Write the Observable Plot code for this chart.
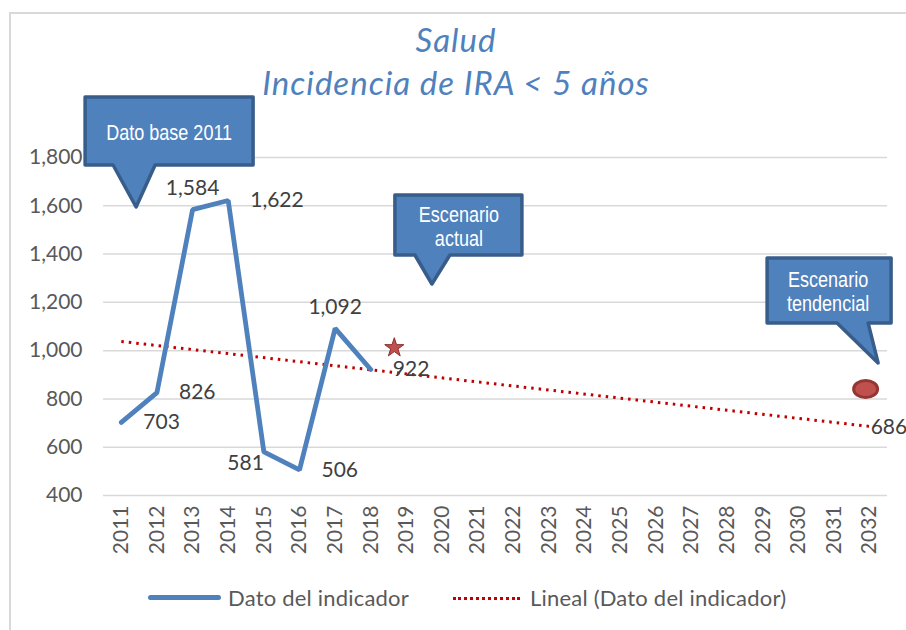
<!DOCTYPE html>
<html>
<head>
<meta charset="utf-8">
<script src="https://cdn.jsdelivr.net/npm/d3@7"></script>
<script src="https://cdn.jsdelivr.net/npm/@observablehq/plot@0.6"></script>
<style>
  body { margin: 0; background: #fff; }
  #wrap { position: relative; width: 906px; height: 630px; overflow: hidden; background: #fff; }
  #frame { position: absolute; left: 9px; top: 12px; width: 1000px; height: 1000px;
           border-left: 2px solid #d9d9d9; border-top: 2px solid #d9d9d9; }
  .title { position: absolute; left: 3px; width: 906px; text-align: center; font-family: Lato, sans-serif;
           font-style: italic; color: #4f81bd; font-size: 33px; letter-spacing: 1px; line-height: 38px; white-space: nowrap; }
  #chart { position: absolute; left: 0; top: 90px; }
  .lg { position: absolute; font-family: Lato, sans-serif; font-size: 22px; letter-spacing: 0.2px; color: #595959; line-height: 24px; white-space: nowrap; }
</style>
</head>
<body>
<div id="wrap">
  <div id="frame"></div>
  <div class="title" id="t1" style="top:20px"></div>
  <div class="title" id="t2" style="top:63px"></div>
  <div id="chart"></div>
  <div id="legend"></div>
</div>
<script>
// ---- text ----
const titleLines = ["Salud", "Incidencia de IRA < 5 años"];
const seriesName = "Dato del indicador";
const trendName = "Lineal (Dato del indicador)";

// ---- data ----
const years = [2011, 2012, 2013, 2014, 2015, 2016, 2017, 2018];
const values = [703, 826, 1584, 1622, 581, 506, 1092, 922];
const valueLabels = ["703", "826", "1,584", "1,622", "581", "506", "1,092", "922"];

// linear trend (Excel "Lineal") end points
const trendYears = [2011, 2032];
const trendValues = [1038, 686];
const trendLabel = "686";

// scenario markers
const actualYears = [2018.66];
const actualValues = [1012];
const tendYears = [2031.9];
const tendValues = [839];

// axes
const axisYears = [2011, 2012, 2013, 2014, 2015, 2016, 2017, 2018, 2019, 2020, 2021,
                   2022, 2023, 2024, 2025, 2026, 2027, 2028, 2029, 2030, 2031, 2032];
const yTicks = [400, 600, 800, 1000, 1200, 1400, 1600, 1800];

// callouts: text lines and the data point their pointer tip marks
const calloutLines = [["Dato base 2011"], ["Escenario", "actual"], ["Escenario", "tendencial"]];
const calloutTipYears = [2011.43, 2019.73, 2032.25];
const calloutTipValues = [1593, 1274, 947];

document.getElementById("t1").textContent = titleLines[0];
document.getElementById("t2").textContent = titleLines[1];

const series = years.map((y, i) => ({year: y, value: values[i], label: valueLabels[i]}));
const trend = trendYears.map((y, i) => ({year: y, value: trendValues[i]}));
const actual = actualYears.map((y, i) => ({year: y, value: actualValues[i]}));
const tend = tendYears.map((y, i) => ({year: y, value: tendValues[i]}));

const rightLabeled = new Set([2011, 2012, 2014, 2016, 2018]);
const topLabeled = new Set([2013, 2017]);
const leftLabeled = new Set([2015]);

// callout geometry (pixel offsets relative to the pointer tip)
const calloutGeom = [
  {l: -51, r: 117, t: -110, b: -42, pl: -23, pr: 19, cx: 33, cy: [-75]},
  {l: -37, r: 90, t: -89, b: -29, pl: -17, pr: 18, cx: 27, cy: [-70, -46]},
  {l: -111, r: 13, t: -105, b: -40, pl: -41, pr: -10, cx: -50, cy: [-84, -60]}
];

const NS = "http://www.w3.org/2000/svg";
function calloutMark(index, scales) {
  const g = document.createElementNS(NS, "g");
  calloutLines.forEach((lines, i) => {
    const tx = scales.x(calloutTipYears[i]);
    const ty = scales.y(calloutTipValues[i]);
    const c = calloutGeom[i];
    const p = document.createElementNS(NS, "path");
    const d = [
      [tx + c.l, ty + c.t], [tx + c.r, ty + c.t], [tx + c.r, ty + c.b],
      [tx + c.pr, ty + c.b], [tx, ty], [tx + c.pl, ty + c.b], [tx + c.l, ty + c.b]
    ].map((pt, k) => (k ? "L" : "M") + pt[0].toFixed(1) + "," + pt[1].toFixed(1)).join("") + "Z";
    p.setAttribute("d", d);
    p.setAttribute("fill", "#4f81bd");
    p.setAttribute("stroke", "#385d8a");
    p.setAttribute("stroke-width", "3.5");
    p.setAttribute("stroke-linejoin", "round");
    g.appendChild(p);
    lines.forEach((line, k) => {
      const t = document.createElementNS(NS, "text");
      t.setAttribute("transform", `translate(${tx + c.cx},${ty + c.cy[k]}) scale(0.82,1)`);
      t.setAttribute("text-anchor", "middle");
      t.setAttribute("dy", "0.35em");
      t.setAttribute("fill", "#ffffff");
      t.setAttribute("font-family", "Liberation Sans, Arial, sans-serif");
      t.setAttribute("font-size", "22");
      t.textContent = line;
      g.appendChild(t);
    });
  });
  return g;
}

function ellipseMark(index, scales) {
  const g = document.createElementNS(NS, "g");
  tend.forEach(d => {
    const e = document.createElementNS(NS, "ellipse");
    e.setAttribute("cx", scales.x(d.year));
    e.setAttribute("cy", scales.y(d.value));
    e.setAttribute("rx", 12);
    e.setAttribute("ry", 8.5);
    e.setAttribute("fill", "#c0504d");
    e.setAttribute("stroke", "#943634");
    e.setAttribute("stroke-width", 3);
    g.appendChild(e);
  });
  return g;
}

const labelStyle = {x: "year", y: "value", text: "label", fontSize: 21, fill: "#404040",
                    fontFamily: "Lato, sans-serif"};

const chart = Plot.plot({
  width: 906,
  height: 480,
  marginLeft: 103,
  marginRight: 19,
  marginTop: 67,
  marginBottom: 75,
  x: {type: "linear", domain: [2010.5, 2032.5]},
  y: {domain: [400, 1800]},
  style: {fontFamily: "Lato, sans-serif", background: "transparent", overflow: "visible"},
  marks: [
    Plot.gridY(yTicks, {stroke: "#d9d9d9", strokeOpacity: 1, strokeWidth: 1.5}),
    Plot.axisY(yTicks, {tickSize: 0, tickPadding: 21, tickFormat: d3.format(","), fontSize: 21,
                        fill: "#595959", label: null}),
    Plot.axisX(axisYears, {tickSize: 0, tickRotate: -90, tickPadding: 10, tickFormat: d => String(d),
                           fontSize: 21, fill: "#595959", label: null}),
    Plot.line(trend, {x: "year", y: "value", stroke: "#c00000", strokeWidth: 3,
                      strokeDasharray: "2.5 5", strokeLinecap: "butt"}),
    Plot.line(series, {x: "year", y: "value", stroke: "#4f81bd", strokeWidth: 4.8,
                       strokeLinejoin: "miter"}),
    Plot.text(series, {...labelStyle, filter: d => rightLabeled.has(d.year), textAnchor: "start", dx: 22}),
    Plot.text(series, {...labelStyle, filter: d => topLabeled.has(d.year), textAnchor: "middle", dy: -21}),
    Plot.text(series, {...labelStyle, filter: d => leftLabeled.has(d.year), textAnchor: "end", dy: 11}),
    Plot.text([trend[trend.length - 1]], {x: "year", y: "value", text: () => trendLabel, textAnchor: "start",
                      dx: 1, dy: 1, fontSize: 21, fill: "#404040", fontFamily: "Lato, sans-serif"}),
    Plot.dot(actual, {x: "year", y: "value", symbol: "star", r: 6, fill: "#c0504d",
                      stroke: "#8b2e2c", strokeWidth: 1}),
    ellipseMark,
    calloutMark
  ]
});
document.getElementById("chart").appendChild(chart);

// legend
const lg = document.getElementById("legend");
lg.innerHTML = `
  <div style="position:absolute;left:148px;top:595px;width:73px;height:5px;border-radius:3px;background:#4f81bd"></div>
  <div class="lg" style="left:228px;top:586px"></div>
  <div style="position:absolute;left:453px;top:597px;width:67px;height:0;border-top:3px dotted #c00000"></div>
  <div class="lg" style="left:530px;top:586px"></div>`;
const lgTexts = lg.querySelectorAll(".lg");
lgTexts[0].textContent = seriesName;
lgTexts[1].textContent = trendName;
</script>
</body>
</html>
